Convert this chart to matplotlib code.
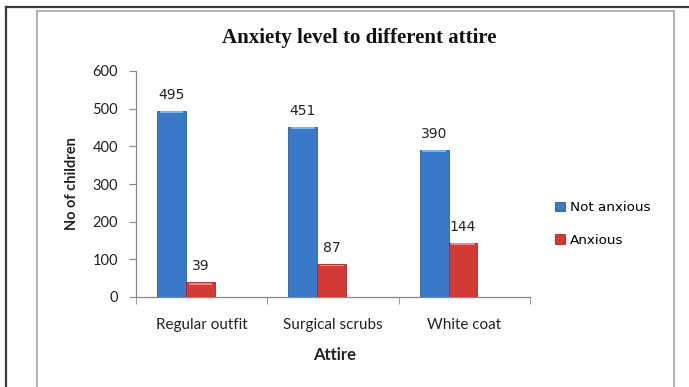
import matplotlib
matplotlib.use("Agg")
import matplotlib.pyplot as plt
from matplotlib.lines import Line2D
from matplotlib.patches import Rectangle
import numpy as np

categories = ["Regular outfit", "Surgical scrubs", "White coat"]
not_anxious = [495, 451, 390]
anxious = [39, 87, 144]
series_names = ["Not anxious", "Anxious"]
yticks = [0, 100, 200, 300, 400, 500, 600]

W, H = 689, 387
fig = plt.figure(figsize=(W / 100, H / 100), dpi=100)
fig.patch.set_facecolor("white")

def fx(px):
    return px / W

def fy(py):
    return 1 - py / H

# outer frame lines
fig.add_artist(Line2D([fx(6), fx(689)], [fy(7), fy(7)], color="#3a3a3a", lw=1.6, transform=fig.transFigure))
fig.add_artist(Line2D([fx(6), fx(6)], [fy(7), fy(390)], color="#3a3a3a", lw=1.6, transform=fig.transFigure))
# inner chart border
fig.add_artist(Rectangle((fx(37), fy(395)), fx(674) - fx(37), fy(11) - fy(395), fill=False,
                         edgecolor="#aaaaaa", lw=1.3, transform=fig.transFigure))

ax = fig.add_axes([fx(136), fy(297), fx(530) - fx(136), fy(71) - fy(297)])
x = np.arange(len(categories))
bw = 0.22
blue_c = "#3a78c8"
red_c = "#d23a36"
b1 = ax.bar(x - 0.23, not_anxious, bw, color=blue_c, edgecolor="#2b5c9e", linewidth=0.6, label=series_names[0], zorder=3)
b2 = ax.bar(x - 0.01, anxious, bw, color=red_c, edgecolor="#9e2a27", linewidth=0.6, label=series_names[1], zorder=3)

# subtle bevel highlight at bar tops
for bars, hc in ((b1, "#7fb0ea"), (b2, "#f08580")):
    for r in bars:
        ax.add_patch(Rectangle((r.get_x() + 0.02, r.get_height() - 6), r.get_width() - 0.04, 5,
                               color=hc, lw=0, zorder=4))

for bars, vals in ((b1, not_anxious), (b2, anxious)):
    for r, v in zip(bars, vals):
        ax.text(r.get_x() + r.get_width() / 2, v + 42, str(v), ha="center", va="center",
                fontsize=10, family="DejaVu Sans", color="#222222")

ax.set_xlim(-0.5, 2.5)
ax.set_ylim(0, 600)
ax.set_yticks(yticks)
ax.set_yticklabels([str(t) for t in yticks], family="Lato", fontsize=10.5, color="#222222")
ax.set_xticks(x)
ax.set_xticklabels(categories, family="Lato", fontsize=11, color="#222222")
ax.set_xticks([-0.5, 0.5, 1.5, 2.5], minor=True)
ax.tick_params(axis="x", which="major", length=0, pad=15)
ax.tick_params(axis="x", which="minor", length=5, color="#888888", direction="out")
ax.tick_params(axis="y", length=5, color="#888888", direction="out", pad=8)
for s in ("top", "right"):
    ax.spines[s].set_visible(False)
for s in ("left", "bottom"):
    ax.spines[s].set_color("#888888")
    ax.spines[s].set_linewidth(0.9)

fig.text(fx(359), fy(38), "Anxiety level to different attire", ha="center", va="center",
         family="Liberation Serif", fontweight="bold", fontsize=15, color="#111111")
fig.text(fx(335), fy(355), "Attire", ha="center", va="center", family="Lato",
         fontweight="bold", fontsize=12, color="#222222")
fig.text(fx(72), fy(184), "No of children", ha="center", va="center", rotation=90,
         family="Lato", fontweight="bold", fontsize=10.5, color="#222222")

leg = fig.legend(handles=[b1, b2], labels=series_names, loc="center left",
                 bbox_to_anchor=(fx(543), fy(224)), frameon=False,
                 prop={"family": "DejaVu Sans", "size": 9.7},
                 handlelength=0.7, handleheight=0.7, handletextpad=0.4, labelspacing=1.45)

fig.savefig("out.png", dpi=100)
